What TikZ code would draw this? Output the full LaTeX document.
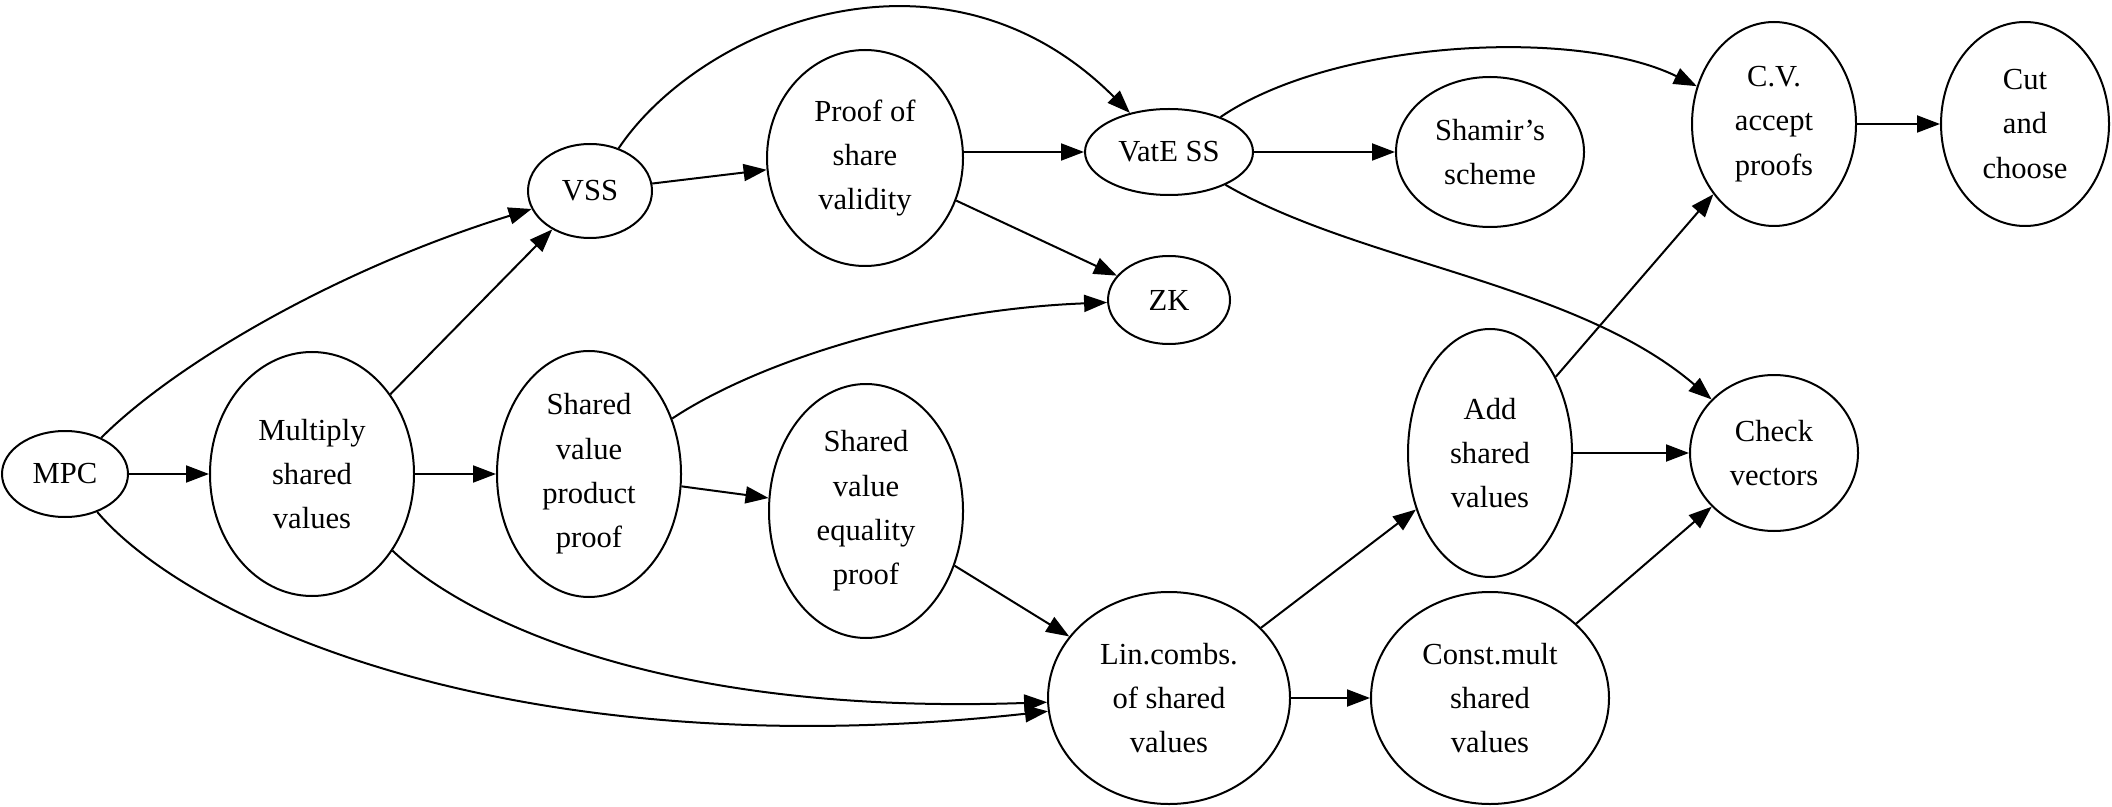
\documentclass[tikz,border=0pt]{standalone}
\usepackage{fontspec}
\setmainfont{Liberation Serif}
\usetikzlibrary{shapes.geometric,arrows.meta}

\begin{document}
\begin{tikzpicture}[x=0.5pt,y=-0.5pt,
    ell/.style={ellipse,draw,line width=1pt,inner sep=0pt,align=center,
                font=\fontsize{15.3}{22.2}\selectfont},
    arr/.style={line width=1pt,-{Triangle[length=11.5pt,width=8.5pt]}}]
\useasboundingbox (0,0) rectangle (2112,807);

% nodes
\node[ell,minimum width=63pt,minimum height=43pt] (mpc) at (65,474) {MPC};
\node[ell,minimum width=102pt,minimum height=122pt] (mult) at (312,474) {Multiply\\shared\\values};
\node[ell,minimum width=62pt,minimum height=47pt] (vss) at (590,191) {VSS};
\node[ell,minimum width=92pt,minimum height=123pt] (svpp) at (589,474) {Shared\\value\\product\\proof};
\node[ell,minimum width=98pt,minimum height=108pt] (psv) at (865,158) {Proof of\\share\\validity};
\node[ell,minimum width=97pt,minimum height=127pt] (sveq) at (866,511) {Shared\\value\\equality\\proof};
\node[ell,minimum width=84pt,minimum height=43pt] (vate) at (1169,152) {VatE SS};
\node[ell,minimum width=61pt,minimum height=44pt] (zk) at (1169,300) {ZK};
\node[ell,minimum width=121pt,minimum height=106pt] (lin) at (1169,698) {Lin.combs.\\of shared\\values};
\node[ell,minimum width=94pt,minimum height=75pt] (shamir) at (1490,152) {Shamir’s\\scheme};
\node[ell,minimum width=82pt,minimum height=124pt] (add) at (1490,453) {Add\\shared\\values};
\node[ell,minimum width=119pt,minimum height=106pt] (cmult) at (1490,698) {Const.mult\\shared\\values};
\node[ell,minimum width=82pt,minimum height=102pt] (cv) at (1774,124) {C.V.\\accept\\proofs};
\node[ell,minimum width=84pt,minimum height=78pt] (check) at (1774,453) {Check\\vectors};
\node[ell,minimum width=84pt,minimum height=102pt] (cut) at (2025,124) {Cut\\and\\choose};

% straight edges
\foreach \a/\b in {mpc/mult, mult/vss, mult/svpp, vss/psv, psv/zk,
                   svpp/sveq, sveq/lin, vate/shamir, lin/add, lin/cmult,
                   add/cv, add/check, cmult/check, cv/cut}
   \draw[arr] (\a) -- (\b);
\draw[arr] (psv.east |- vate.west) -- (vate.west);

% curved edges
\draw[arr] (mpc) .. controls (175,364) and (337,269) .. (vss);
\draw[arr] (mpc) .. controls (189,620) and (512,770) .. (lin);
\draw[arr] (mult) .. controls (458,613) and (647,716) .. (lin);
\draw[arr] (vss) .. controls (700,27) and (943,-74) .. (vate);
\draw[arr] (svpp) .. controls (754,364) and (916,310) .. (zk);
\draw[arr] (vate) .. controls (1334,40) and (1576,27) .. (cv);
\draw[arr] (vate) .. controls (1360,263) and (1576,283) .. (check);

\end{tikzpicture}
\end{document}
